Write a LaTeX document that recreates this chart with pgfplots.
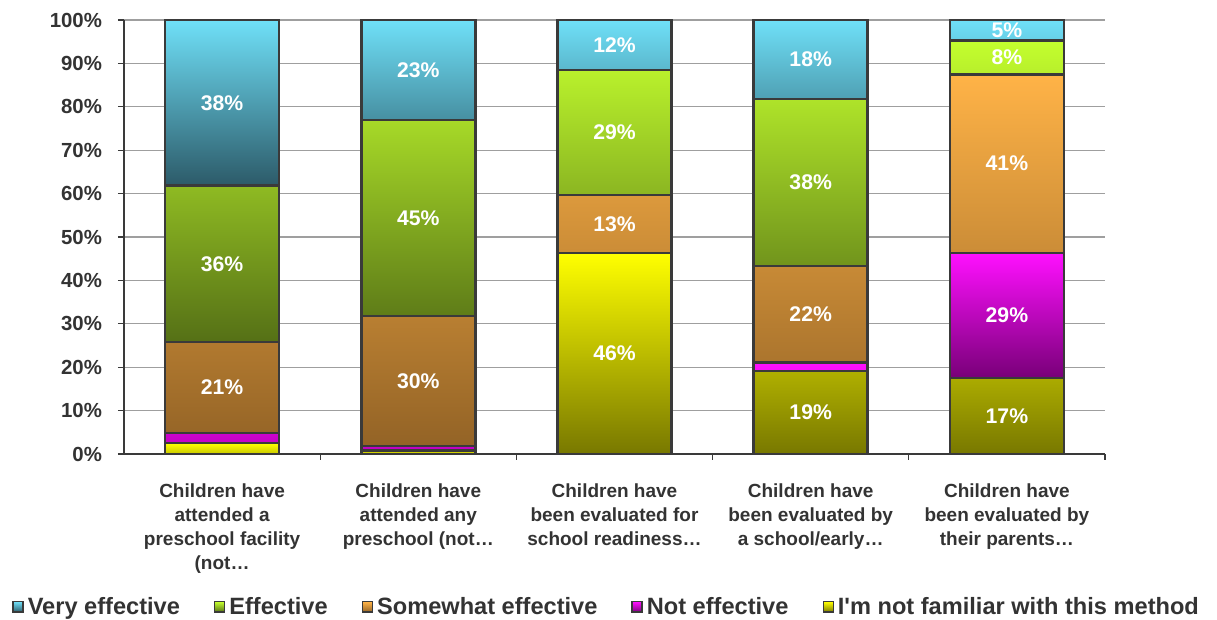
\documentclass[border=0pt]{standalone}
\usepackage{pgfplots}
\pgfplotsset{compat=1.18}
\usepackage{fontspec}
\setmainfont{Liberation Sans}
\definecolor{blueT}{HTML}{6FE0F8}
\definecolor{blueB}{HTML}{2C5A68}
\definecolor{greenT}{HTML}{C4FF2E}
\definecolor{greenB}{HTML}{557016}
\definecolor{orangeT}{HTML}{FFB347}
\definecolor{orangeB}{HTML}{936326}
\definecolor{magT}{HTML}{FF10FF}
\definecolor{magB}{HTML}{780078}
\definecolor{yelT}{HTML}{FFFF00}
\definecolor{yelB}{HTML}{787800}
\definecolor{yelThinB}{HTML}{C8C800}
\definecolor{magThinB}{HTML}{C000C0}
\definecolor{edge}{HTML}{3A3A3A}
\definecolor{ticktext}{HTML}{333333}
\begin{document}
\begin{tikzpicture}
\begin{axis}[
  scale only axis, width=490.5pt, height=217pt,
  ybar stacked, bar width=57pt,
  xmin=-0.5, xmax=4.5, ymin=0, ymax=100,
  axis x line*=bottom, axis y line*=left,
  axis line style={draw=edge, line width=0.7pt},
  tick align=outside, major tick length=3pt,
  ytick={0,10,...,100},
  yticklabel={\pgfmathprintnumber{\tick}\%},
  /pgf/number format/assume math mode=true,
  yticklabel style={font=\bfseries\fontsize{10.2}{11}\selectfont, text=ticktext, xshift=-4.5pt},
  ytick style={draw=edge, line width=0.6pt},
  ymajorgrids, grid style={draw=gray!75, line width=0.6pt},
  xtick={0,...,4},
  xticklabels={{Children have\\attended a\\preschool facility\\(not…},
               {Children have\\attended any\\preschool (not…},
               {Children have\\been evaluated for\\school readiness…},
               {Children have\\been evaluated by\\a school/early…},
               {Children have\\been evaluated by\\their parents…}},
  xticklabel style={align=center, font=\bfseries\fontsize{9.5}{12}\selectfont, text=ticktext, yshift=-8.5pt},
  xtick style={draw=none},
  extra x ticks={0.5,1.5,2.5,3.5,4.5},
  extra x tick labels={},
  extra x tick style={xtick style={draw=edge, line width=0.6pt}, grid=none},
  point meta=explicit,
  nodes near coords={\pgfmathfloatifflags{\pgfplotspointmeta}{0}{}{\pgfmathprintnumber{\pgfplotspointmeta}\%}},
  every node near coord/.append style={font=\bfseries\fontsize{10.6}{12}\selectfont, text=white, anchor=center},
  legend columns=5,
  reverse legend,
  legend style={draw=none, fill=none, font=\bfseries\fontsize{11.8}{13}\selectfont, text=ticktext,
    at={(0.493,-0.3525)}, anchor=center,
    /tikz/every even column/.append style={column sep=15pt}},
  legend image code/.code={\draw[#1, line width=0.7pt] (0pt,-2.6pt) rectangle (5pt,2.6pt);},
]
% thin yellow segments (bright)
\addplot[forget plot, draw=edge, line width=1.3pt, top color=yelT, bottom color=yelThinB]
  coordinates {(0,2.5)[0] (1,0.8)[0] (2,0)[0] (3,0)[0] (4,0)[0]};
\addplot[draw=edge, line width=1.3pt, top color=yelT, bottom color=yelB]
  coordinates {(0,0)[0] (1,0)[0] (2,46.3)[46] (3,19.1)[19] (4,17.5)[17]};
\addlegendentry{I\textquotesingle m not familiar with this method}
% thin magenta segments (bright)
\addplot[forget plot, draw=edge, line width=1.3pt, top color=magT, bottom color=magThinB]
  coordinates {(0,2.3)[0] (1,1.0)[0] (2,0)[0] (3,2.0)[0] (4,0)[0]};
\addplot[draw=edge, line width=1.3pt, top color=magT, bottom color=magB]
  coordinates {(0,0)[0] (1,0)[0] (2,0)[0] (3,0)[0] (4,28.8)[29]};
\addlegendentry{Not effective}
\addplot[draw=edge, line width=1.3pt, top color=orangeT, bottom color=orangeB]
  coordinates {(0,21.0)[21] (1,30.0)[30] (2,13.4)[13] (3,22.2)[22] (4,41.2)[41]};
\addlegendentry{Somewhat effective}
\addplot[draw=edge, line width=1.3pt, top color=greenT, bottom color=greenB]
  coordinates {(0,36.0)[36] (1,45.2)[45] (2,28.8)[29] (3,38.5)[38] (4,7.8)[8]};
\addlegendentry{Effective}
\addplot[draw=edge, line width=1.3pt, top color=blueT, bottom color=blueB]
  coordinates {(0,38.2)[38] (1,23.0)[23] (2,11.5)[12] (3,18.2)[18] (4,4.7)[5]};
\addlegendentry{Very effective}
\end{axis}
\pgfresetboundingbox
\path ([shift={(-62pt,-83pt)}]current axis.south west) rectangle ([shift={(546.5pt,227pt)}]current axis.south west);
\end{tikzpicture}
\end{document}
